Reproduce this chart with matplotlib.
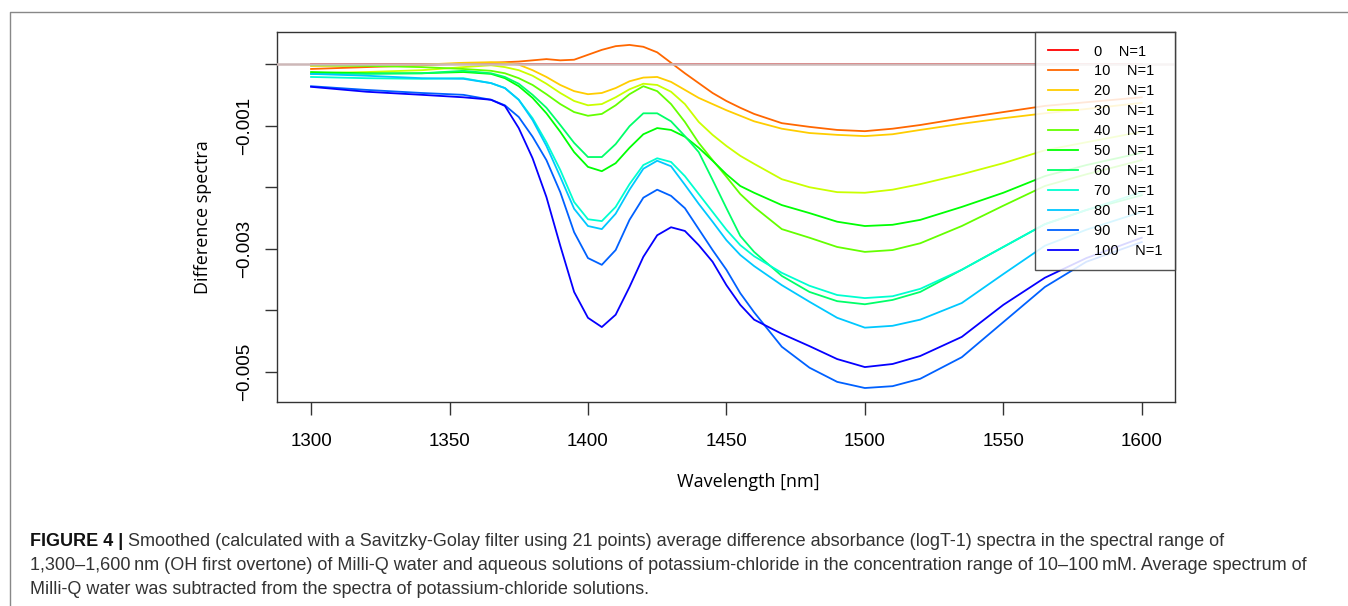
#!/usr/bin/env python3
# -*- coding: utf-8 -*-
# plot.py
# Difference spectra of KCl solutions against Milli-Q water, 1300-1600 nm

import colorsys
import matplotlib
matplotlib.use("Agg")
import matplotlib.pyplot as plt
from matplotlib.lines import Line2D

W, H = 1348, 606

wavelength = [1300, 1320, 1340, 1355, 1365, 1370, 1375, 1380, 1385, 1390, 1395,
	1400, 1405, 1410, 1415, 1420, 1425, 1430, 1435, 1440, 1445, 1450, 1455, 1460,
	1470, 1480, 1490, 1500, 1510, 1520, 1535, 1550, 1565, 1580, 1600]

concentrations = [0, 10, 20, 30, 40, 50, 60, 70, 80, 90, 100]

# difference spectra, in units of 1e-3
spec_0 = [0.0] * len(wavelength)
spec_10 = [-0.08, -0.05, -0.02, 0.01, 0.02, 0.03, 0.04, 0.06, 0.08, 0.06, 0.07,
	0.15, 0.23, 0.29, 0.31, 0.28, 0.19, 0.02, -0.15, -0.31, -0.47, -0.60, -0.71, -0.81,
	-0.96, -1.02, -1.07, -1.09, -1.05, -0.99, -0.88, -0.78, -0.68, -0.62, -0.54]
spec_20 = [-0.03, -0.02, -0.01, 0.02, 0.03, 0.02, -0.01, -0.10, -0.21, -0.34, -0.44,
	-0.49, -0.47, -0.39, -0.28, -0.22, -0.21, -0.29, -0.42, -0.55, -0.65, -0.75, -0.84, -0.93,
	-1.05, -1.12, -1.15, -1.17, -1.14, -1.07, -0.97, -0.88, -0.80, -0.73, -0.63]
spec_30 = [-0.15, -0.13, -0.10, -0.05, -0.02, -0.05, -0.10, -0.19, -0.32, -0.47, -0.60,
	-0.67, -0.65, -0.54, -0.41, -0.32, -0.34, -0.45, -0.65, -0.94, -1.15, -1.33, -1.49, -1.62,
	-1.87, -2.00, -2.08, -2.09, -2.04, -1.95, -1.79, -1.61, -1.40, -1.27, -1.10]
spec_40 = [-0.02, -0.03, -0.05, -0.08, -0.11, -0.15, -0.23, -0.34, -0.49, -0.65, -0.78,
	-0.84, -0.81, -0.67, -0.49, -0.36, -0.44, -0.65, -0.94, -1.28, -1.56, -1.83, -2.11, -2.32,
	-2.68, -2.82, -2.97, -3.05, -3.02, -2.91, -2.63, -2.30, -1.98, -1.79, -1.56]
spec_50 = [-0.13, -0.15, -0.15, -0.13, -0.16, -0.23, -0.36, -0.55, -0.80, -1.10, -1.43,
	-1.67, -1.74, -1.61, -1.36, -1.14, -1.04, -1.07, -1.18, -1.36, -1.57, -1.79, -1.98, -2.09,
	-2.29, -2.42, -2.56, -2.63, -2.61, -2.53, -2.32, -2.09, -1.82, -1.64, -1.44]
spec_60 = [-0.16, -0.16, -0.15, -0.11, -0.15, -0.21, -0.32, -0.50, -0.71, -0.99, -1.28,
	-1.51, -1.51, -1.30, -1.01, -0.80, -0.80, -0.93, -1.17, -1.43, -1.88, -2.34, -2.79, -3.05,
	-3.44, -3.70, -3.85, -3.90, -3.83, -3.70, -3.34, -2.97, -2.60, -2.37, -2.13]
spec_70 = [-0.21, -0.23, -0.24, -0.23, -0.31, -0.39, -0.58, -0.88, -1.27, -1.72, -2.24,
	-2.52, -2.55, -2.32, -1.95, -1.64, -1.53, -1.59, -1.82, -2.11, -2.40, -2.69, -2.94, -3.12,
	-3.39, -3.60, -3.75, -3.80, -3.77, -3.65, -3.34, -2.97, -2.60, -2.37, -2.08]
spec_80 = [-0.16, -0.19, -0.23, -0.24, -0.31, -0.39, -0.58, -0.91, -1.33, -1.83, -2.35,
	-2.63, -2.68, -2.43, -2.04, -1.70, -1.57, -1.66, -1.96, -2.27, -2.56, -2.86, -3.10, -3.28,
	-3.59, -3.86, -4.12, -4.28, -4.25, -4.15, -3.88, -3.41, -2.95, -2.69, -2.40]
spec_90 = [-0.36, -0.42, -0.47, -0.50, -0.58, -0.67, -0.86, -1.18, -1.56, -2.08, -2.73,
	-3.15, -3.26, -3.02, -2.53, -2.17, -2.04, -2.14, -2.34, -2.68, -3.02, -3.34, -3.72, -4.03,
	-4.59, -4.93, -5.16, -5.26, -5.23, -5.11, -4.76, -4.19, -3.62, -3.21, -2.89]
spec_100 = [-0.37, -0.45, -0.50, -0.54, -0.58, -0.68, -1.04, -1.53, -2.16, -2.95, -3.70,
	-4.12, -4.27, -4.07, -3.62, -3.13, -2.78, -2.65, -2.71, -2.94, -3.21, -3.59, -3.91, -4.15,
	-4.38, -4.58, -4.79, -4.92, -4.87, -4.74, -4.43, -3.91, -3.47, -3.15, -2.82]

spectra = [spec_0, spec_10, spec_20, spec_30, spec_40, spec_50, spec_60,
	spec_70, spec_80, spec_90, spec_100]

xticks = [1300, 1350, 1400, 1450, 1500, 1550, 1600]
yticks = [0, -0.001, -0.002, -0.003, -0.004, -0.005]
ytick_labels = ["", "\u22120.001", "", "\u22120.003", "", "\u22120.005"]

caption_bold = "FIGURE 4 |"
caption_lines = [
	" Smoothed (calculated with a Savitzky-Golay filter using 21 points) average difference absorbance (logT-1) spectra in the spectral range of",
	"1,300\u20131,600\u2009nm (OH first overtone) of Milli-Q water and aqueous solutions of potassium-chloride in the concentration range of 10\u2013100\u2009mM. Average spectrum of",
	"Milli-Q water was subtracted from the spectra of potassium-chloride solutions.",
]


def _rainbow(n, end=0.67):
	"""R style rainbow() palette"""
	return [colorsys.hsv_to_rgb(end * i / (n - 1), 1.0, 1.0) for i in range(n)]
# end def


def _px(x, y):
	"""Pixel position to figure fraction"""
	return x / W, 1 - y / H
# end def


def _caption(fig):
	"""Writes the figure caption below the plot"""
	r = fig.canvas.get_renderer()
	font = ["Liberation Sans", "DejaVu Sans"]
	size = 12.0
	probe = fig.text(0, 0, caption_lines[1], fontsize=size, family=font)
	width = probe.get_window_extent(r).width
	probe.remove()
	size = size * (1305 - 30) / width

	ys = [541, 566, 590]
	b = fig.text(*_px(30, ys[0]), caption_bold, fontsize=size, family=font,
		weight="bold", va="center", color="#111111")
	bw = b.get_window_extent(r).width
	fig.text(*_px(30 + bw, ys[0]), caption_lines[0], fontsize=size, family=font,
		va="center", color="#333333")
	for line, y in zip(caption_lines[1:], ys[1:]):
		fig.text(*_px(30, y), line, fontsize=size, family=font,
			va="center", color="#333333")
# end def


def plot_spectra():
	fig = plt.figure(figsize=(W / 100, H / 100), dpi=100)
	ax = fig.add_axes([277 / W, 1 - 402 / H, 898 / W, 370 / H])
	colors = _rainbow(len(concentrations))

	for c, s, col in zip(concentrations, spectra, colors):
		ax.plot(wavelength, [v * 1e-3 for v in s], color=col, lw=1.3,
			label="{}    N=1".format(c))
	ax.axhline(0, color="#cdb8b8", lw=1.8, zorder=3)

	ax.set_xlim(1287.7, 1612)
	ax.set_ylim(-5.487e-3, 0.52e-3)
	ax.set_xticks(xticks)
	ax.set_xticklabels([str(t) for t in xticks])
	ax.set_yticks(yticks)
	ax.set_yticklabels(ytick_labels, rotation=90, va="center")

	for sp in ax.spines.values():
		sp.set_color("#333333")
		sp.set_linewidth(1.0)
	ax.tick_params(length=9, width=1.0, color="#333333", labelsize=13.5,
		labelfontfamily="Liberation Sans")
	ax.tick_params(axis="x", pad=13)
	ax.tick_params(axis="y", pad=8)

	ax.set_xlabel("Wavelength [nm]", family="Open Sans", fontsize=13, va="center")
	ax.xaxis.set_label_coords(0.5245, -0.216)
	ax.set_ylabel("Difference spectra", family="Open Sans", fontsize=13, va="center")
	ax.yaxis.set_label_coords(-0.0824, 0.5)

	leg = ax.legend(loc="upper right", borderaxespad=0,
		prop={"family": "Liberation Sans", "size": 10.5},
		fancybox=False, framealpha=0.85, edgecolor="#333333",
		labelspacing=0.405, borderpad=0.86, handlelength=2.06, handletextpad=1.1)
	leg.get_frame().set_linewidth(1.0)

	# page frame, top and left edges only
	fx0, fy0 = _px(10, 12)
	fig.add_artist(Line2D([fx0, fx0, 1], [0, fy0, fy0], color="#888888", lw=1.0))

	_caption(fig)
	fig.savefig("out.png", dpi=100)
# end def


plot_spectra()
